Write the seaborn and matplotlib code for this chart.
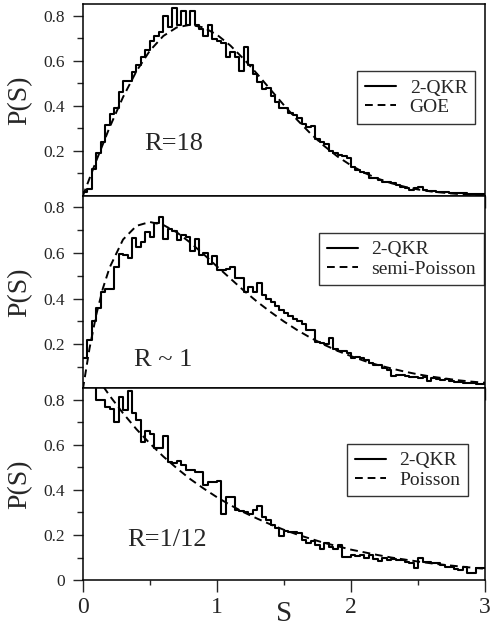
import numpy as np
import pandas as pd
import seaborn as sns
import matplotlib.pyplot as plt
from matplotlib.lines import Line2D

sns.set_style('ticks')
plt.rcParams['font.family'] = ['Liberation Serif', 'DejaVu Serif']

# histogram heights, 90 bins of width 1/30 on [0, 3]
top_hist = [0.02, 0.03, 0.12, 0.19, 0.24, 0.315, 0.365, 0.39, 0.46, 0.51,
            0.51, 0.55, 0.58, 0.615, 0.65, 0.69, 0.71, 0.73, 0.80, 0.75,
            0.835, 0.76, 0.82, 0.76, 0.82, 0.76, 0.74, 0.71, 0.76, 0.695,
            0.69, 0.68, 0.615, 0.64, 0.615, 0.555, 0.66, 0.58, 0.54, 0.505,
            0.475, 0.48, 0.445, 0.415, 0.39, 0.39, 0.37, 0.36, 0.345, 0.32,
            0.305, 0.31, 0.255, 0.24, 0.232, 0.20, 0.19, 0.18, 0.178, 0.17,
            0.13, 0.115, 0.107, 0.10, 0.078, 0.078, 0.07, 0.063, 0.06, 0.056,
            0.05, 0.04, 0.034, 0.026, 0.034, 0.04, 0.026, 0.024, 0.022, 0.02,
            0.02, 0.016, 0.015, 0.015, 0.012, 0.012, 0.01, 0.009, 0.008, 0.007]

mid_hist = [0.14, 0.22, 0.30, 0.36, 0.43, 0.44, 0.44, 0.54, 0.595, 0.59,
            0.58, 0.665, 0.625, 0.648, 0.69, 0.67, 0.73, 0.76, 0.66, 0.705,
            0.695, 0.655, 0.677, 0.67, 0.61, 0.66, 0.59, 0.60, 0.55, 0.585,
            0.525, 0.525, 0.53, 0.54, 0.49, 0.49, 0.43, 0.45, 0.43, 0.47,
            0.415, 0.40, 0.385, 0.365, 0.35, 0.335, 0.325, 0.31, 0.30, 0.29,
            0.26, 0.26, 0.21, 0.205, 0.20, 0.228, 0.18, 0.17, 0.17, 0.16,
            0.14, 0.145, 0.137, 0.13, 0.115, 0.11, 0.108, 0.093, 0.086, 0.06,
            0.064, 0.064, 0.06, 0.057, 0.055, 0.053, 0.055, 0.038, 0.052, 0.047,
            0.042, 0.047, 0.04, 0.032, 0.032, 0.028, 0.03, 0.028, 0.023, 0.023]

bot_hist = [0.95, 0.93, 0.90, 0.80, 0.80, 0.77, 0.76, 0.70, 0.815, 0.755,
            0.84, 0.74, 0.71, 0.615, 0.66, 0.65, 0.585, 0.585, 0.64, 0.525,
            0.52, 0.53, 0.51, 0.49, 0.49, 0.48, 0.48, 0.42, 0.435, 0.435,
            0.44, 0.295, 0.37, 0.37, 0.31, 0.305, 0.30, 0.295, 0.31, 0.33,
            0.28, 0.265, 0.245, 0.23, 0.195, 0.22, 0.215, 0.215, 0.207, 0.178,
            0.163, 0.175, 0.155, 0.14, 0.163, 0.145, 0.14, 0.155, 0.104, 0.104,
            0.11, 0.105, 0.11, 0.096, 0.11, 0.095, 0.084, 0.096, 0.089, 0.095,
            0.089, 0.089, 0.081, 0.075, 0.052, 0.096, 0.081, 0.081, 0.074, 0.074,
            0.067, 0.06, 0.06, 0.05, 0.044, 0.06, 0.03, 0.03, 0.055, 0.052]

# dashed reference curves
s_curve = [0.0, 0.1, 0.2, 0.3, 0.4, 0.5, 0.6, 0.7, 0.8, 0.9, 1.0,
           1.1, 1.2, 1.3, 1.4, 1.5, 1.6, 1.7, 1.8, 1.9, 2.0,
           2.1, 2.2, 2.3, 2.4, 2.5, 2.6, 2.7, 2.8, 2.9, 3.0]
goe = [0.0, 0.156, 0.305, 0.439, 0.554, 0.645, 0.710, 0.748, 0.760, 0.748, 0.716,
       0.668, 0.608, 0.542, 0.472, 0.403, 0.337, 0.276, 0.222, 0.175, 0.136,
       0.103, 0.077, 0.057, 0.041, 0.029, 0.020, 0.014, 0.009, 0.006, 0.004]
s_semi = [0.0, 0.05, 0.1, 0.15, 0.2, 0.3, 0.4, 0.5, 0.6, 0.7, 0.8, 0.9, 1.0,
          1.1, 1.2, 1.3, 1.4, 1.5, 1.6, 1.7, 1.8, 1.9, 2.0,
          2.1, 2.2, 2.3, 2.4, 2.5, 2.6, 2.7, 2.8, 2.9, 3.0]
semi_poisson = [0.0, 0.181, 0.328, 0.445, 0.536, 0.659, 0.719, 0.736, 0.723, 0.691, 0.646,
                0.595, 0.541, 0.488, 0.435, 0.386, 0.341, 0.299, 0.261, 0.227, 0.197,
                0.170, 0.147, 0.126, 0.108, 0.093, 0.079, 0.067, 0.057, 0.049, 0.041,
                0.035, 0.030]
poisson = [1.0, 0.905, 0.819, 0.741, 0.670, 0.607, 0.549, 0.497, 0.449, 0.407, 0.368,
           0.333, 0.301, 0.273, 0.247, 0.223, 0.202, 0.183, 0.165, 0.150, 0.135,
           0.123, 0.111, 0.100, 0.091, 0.082, 0.074, 0.067, 0.061, 0.055, 0.050]

n_bins = 90
bin_w = 3.0 / n_bins
centers = (np.arange(n_bins) + 0.5) * bin_w

panels = [
    (top_hist, s_curve, goe, 'GOE', 'R=18', (0.68, 0.23), (0, 0.852), (0.975, 0.65)),
    (mid_hist, s_semi, semi_poisson, 'semi-Poisson', 'R ~ 1', (0.60, 0.13), (0.007, 0.85), (0.997, 0.807)),
    (bot_hist, s_curve, poisson, 'Poisson', 'R=1/12', (0.63, 0.178), (0, 0.853), (0.958, 0.708)),
]

fig, axes = plt.subplots(3, 1, figsize=(4.9, 6.28), dpi=100, sharex=True)
fig.subplots_adjust(left=0.169, right=0.99, top=0.9936, bottom=0.0764, hspace=0)

for k, (ax, (hist, sx, sy, name, rtxt, rpos, ylim, legpos)) in enumerate(zip(axes, panels)):
    hdf = pd.DataFrame({'S': centers, 'P': hist})
    sns.histplot(data=hdf, x='S', weights='P', binwidth=bin_w, binrange=(0, 3),
                 element='step', fill=False, color='black', linewidth=1.5, ax=ax)
    df = pd.DataFrame({'S': sx, 'P': sy})
    sns.lineplot(data=df, x='S', y='P', color='black', linewidth=1.4,
                 linestyle=(0, (4, 2.5)), ax=ax)
    ax.set_xlim(0, 3)
    ax.set_ylim(*ylim)
    ax.set_ylabel('P(S)', fontsize=20)
    ax.yaxis.set_label_coords(-0.125, 0.5)
    ax.set_xlabel('')
    ax.set_xticks([0, 1, 2, 3])
    ax.set_xticks([0.5, 1.5, 2.5], minor=True)
    if k < 2:
        ax.set_yticks([0.2, 0.4, 0.6, 0.8])
        ax.set_yticklabels(['0.2', '0.4', '0.6', '0.8'])
    else:
        ax.set_yticks([0, 0.2, 0.4, 0.6, 0.8])
        ax.set_yticklabels(['0', '0.2', '0.4', '0.6', '0.8'])
    ax.set_yticks([0.1, 0.3, 0.5, 0.7], minor=True)
    ax.tick_params(axis='y', which='major', length=7, width=1, labelsize=12.5, pad=6)
    ax.tick_params(axis='y', which='minor', length=4, width=1)
    ax.tick_params(axis='x', which='major', length=8.5, width=1, labelsize=17, pad=4)
    ax.tick_params(axis='x', which='minor', length=3.6, width=1)
    for sp in ax.spines.values():
        sp.set_linewidth(1.1)
        sp.set_color('black')
    ax.text(rpos[0], rpos[1], rtxt, fontsize=19, ha='center', va='center')
    handles = [Line2D([], [], color='black', linewidth=1.5),
               Line2D([], [], color='black', linewidth=1.4, linestyle=(0, (4, 2.5)))]
    leg = ax.legend(handles, ['2-QKR', name], loc='upper right', bbox_to_anchor=legpos,
                    borderaxespad=0, fontsize=14, frameon=True, fancybox=False,
                    handlelength=1.6, handletextpad=0.7, borderpad=0.4, labelspacing=0.08)
    leg.get_frame().set_edgecolor('black')
    leg.get_frame().set_linewidth(1.0)

axes[-1].set_xlabel('S', fontsize=21)
axes[-1].xaxis.set_label_coords(0.5, -0.11)
axes[-1].xaxis.label.set_va('top')

fig.savefig('out.png', dpi=100)
